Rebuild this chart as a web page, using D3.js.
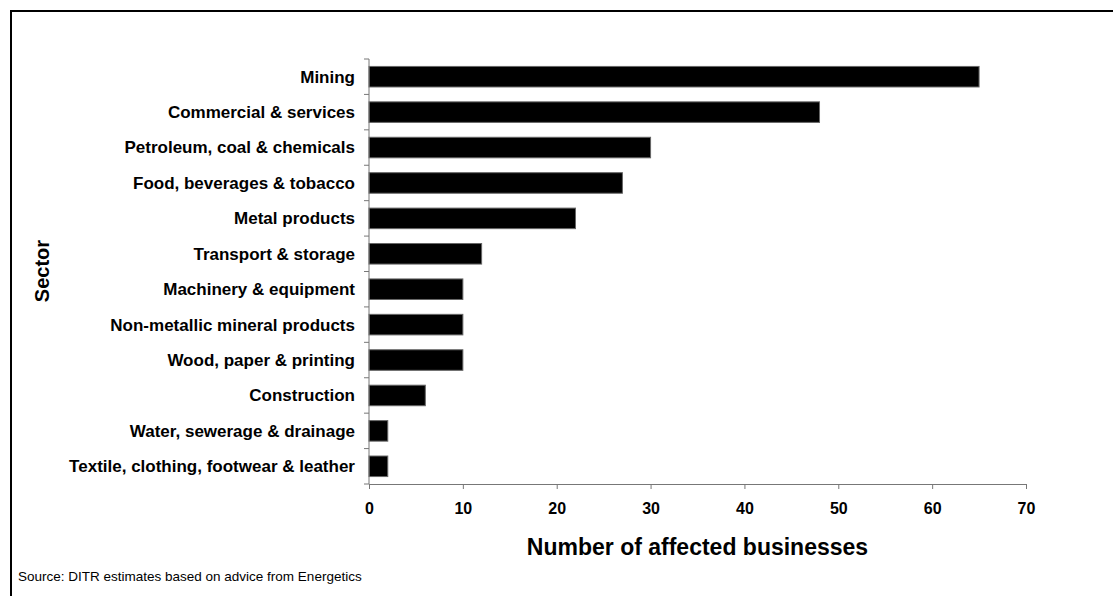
<!DOCTYPE html>
<html>
<head>
<meta charset="utf-8">
<script src="https://cdn.jsdelivr.net/npm/d3@7"></script>
<style>
  body { margin: 0; background: #fff; }
  svg { display: block; font-family: "Liberation Sans", Arial, sans-serif; }
</style>
</head>
<body>
<script>
const sectors = [
  "Mining",
  "Commercial & services",
  "Petroleum, coal & chemicals",
  "Food, beverages & tobacco",
  "Metal products",
  "Transport & storage",
  "Machinery & equipment",
  "Non-metallic mineral products",
  "Wood, paper & printing",
  "Construction",
  "Water, sewerage & drainage",
  "Textile, clothing, footwear & leather"
];
const businesses = [65, 48, 30, 27, 22, 12, 10, 10, 10, 6, 2, 2];
const xTicks = [0, 10, 20, 30, 40, 50, 60, 70];

const width = 1113, height = 596;
const data = sectors.map((s, i) => ({sector: s, value: businesses[i]}));

const svg = d3.select("body").append("svg")
  .attr("width", width)
  .attr("height", height);

// outer frame, cut off at right and bottom like the original
svg.append("rect")
  .attr("x", 11).attr("y", 11)
  .attr("width", width + 20).attr("height", height + 20)
  .attr("fill", "none")
  .attr("stroke", "#000")
  .attr("stroke-width", 2);

const x = d3.scaleLinear()
  .domain([0, 70])
  .range([369, 1026]);

const y = d3.scaleBand()
  .domain(sectors)
  .range([59, 484])
  .paddingInner(0.42)
  .paddingOuter(0.21);

// bars, with the thin grey edge of the original
svg.append("g")
  .selectAll("rect")
  .data(data)
  .join("rect")
    .attr("x", x(0))
    .attr("y", d => y(d.sector))
    .attr("width", d => x(d.value) - x(0))
    .attr("height", y.bandwidth())
    .attr("fill", "#000")
    .attr("stroke", "#666")
    .attr("stroke-width", 1);

// y axis: ticks between the categories
const step = y.step();
const yAxis = svg.append("g");
yAxis.append("line")
  .attr("x1", x(0)).attr("x2", x(0))
  .attr("y1", 59).attr("y2", 484)
  .attr("stroke", "#777");
yAxis.selectAll("line.tick")
  .data(d3.range(sectors.length + 1))
  .join("line")
    .attr("class", "tick")
    .attr("x1", x(0) - 5).attr("x2", x(0))
    .attr("y1", i => 59 + i * step)
    .attr("y2", i => 59 + i * step)
    .attr("stroke", "#777");
yAxis.selectAll("text")
  .data(sectors)
  .join("text")
    .attr("x", x(0) - 14)
    .attr("y", d => y(d) + y.bandwidth() / 2)
    .attr("dy", "0.35em")
    .attr("text-anchor", "end")
    .attr("font-size", 17)
    .attr("font-weight", "bold")
    .text(d => d);

// x axis
svg.append("g")
  .attr("transform", "translate(0,484)")
  .call(d3.axisBottom(x).tickValues(xTicks).tickSize(5).tickPadding(14))
  .call(g => g.select(".domain").attr("stroke", "#777"))
  .call(g => g.selectAll(".tick line").attr("stroke", "#777"))
  .call(g => g.selectAll(".tick text")
    .attr("font-size", 16)
    .attr("font-weight", "bold")
    .attr("font-family", "Liberation Sans, Arial, sans-serif")
    .attr("fill", "#000"));

svg.append("text")
  .attr("x", (x(0) + x(70)) / 2)
  .attr("y", 555)
  .attr("text-anchor", "middle")
  .attr("font-size", 23)
  .attr("font-weight", "bold")
  .text("Number of affected businesses");

svg.append("text")
  .attr("transform", "translate(49,271) rotate(-90)")
  .attr("text-anchor", "middle")
  .attr("font-size", 20)
  .attr("font-weight", "bold")
  .text("Sector");

svg.append("text")
  .attr("x", 18)
  .attr("y", 581)
  .attr("font-size", 13.5)
  .text("Source: DITR estimates based on advice from Energetics");
</script>
</body>
</html>
